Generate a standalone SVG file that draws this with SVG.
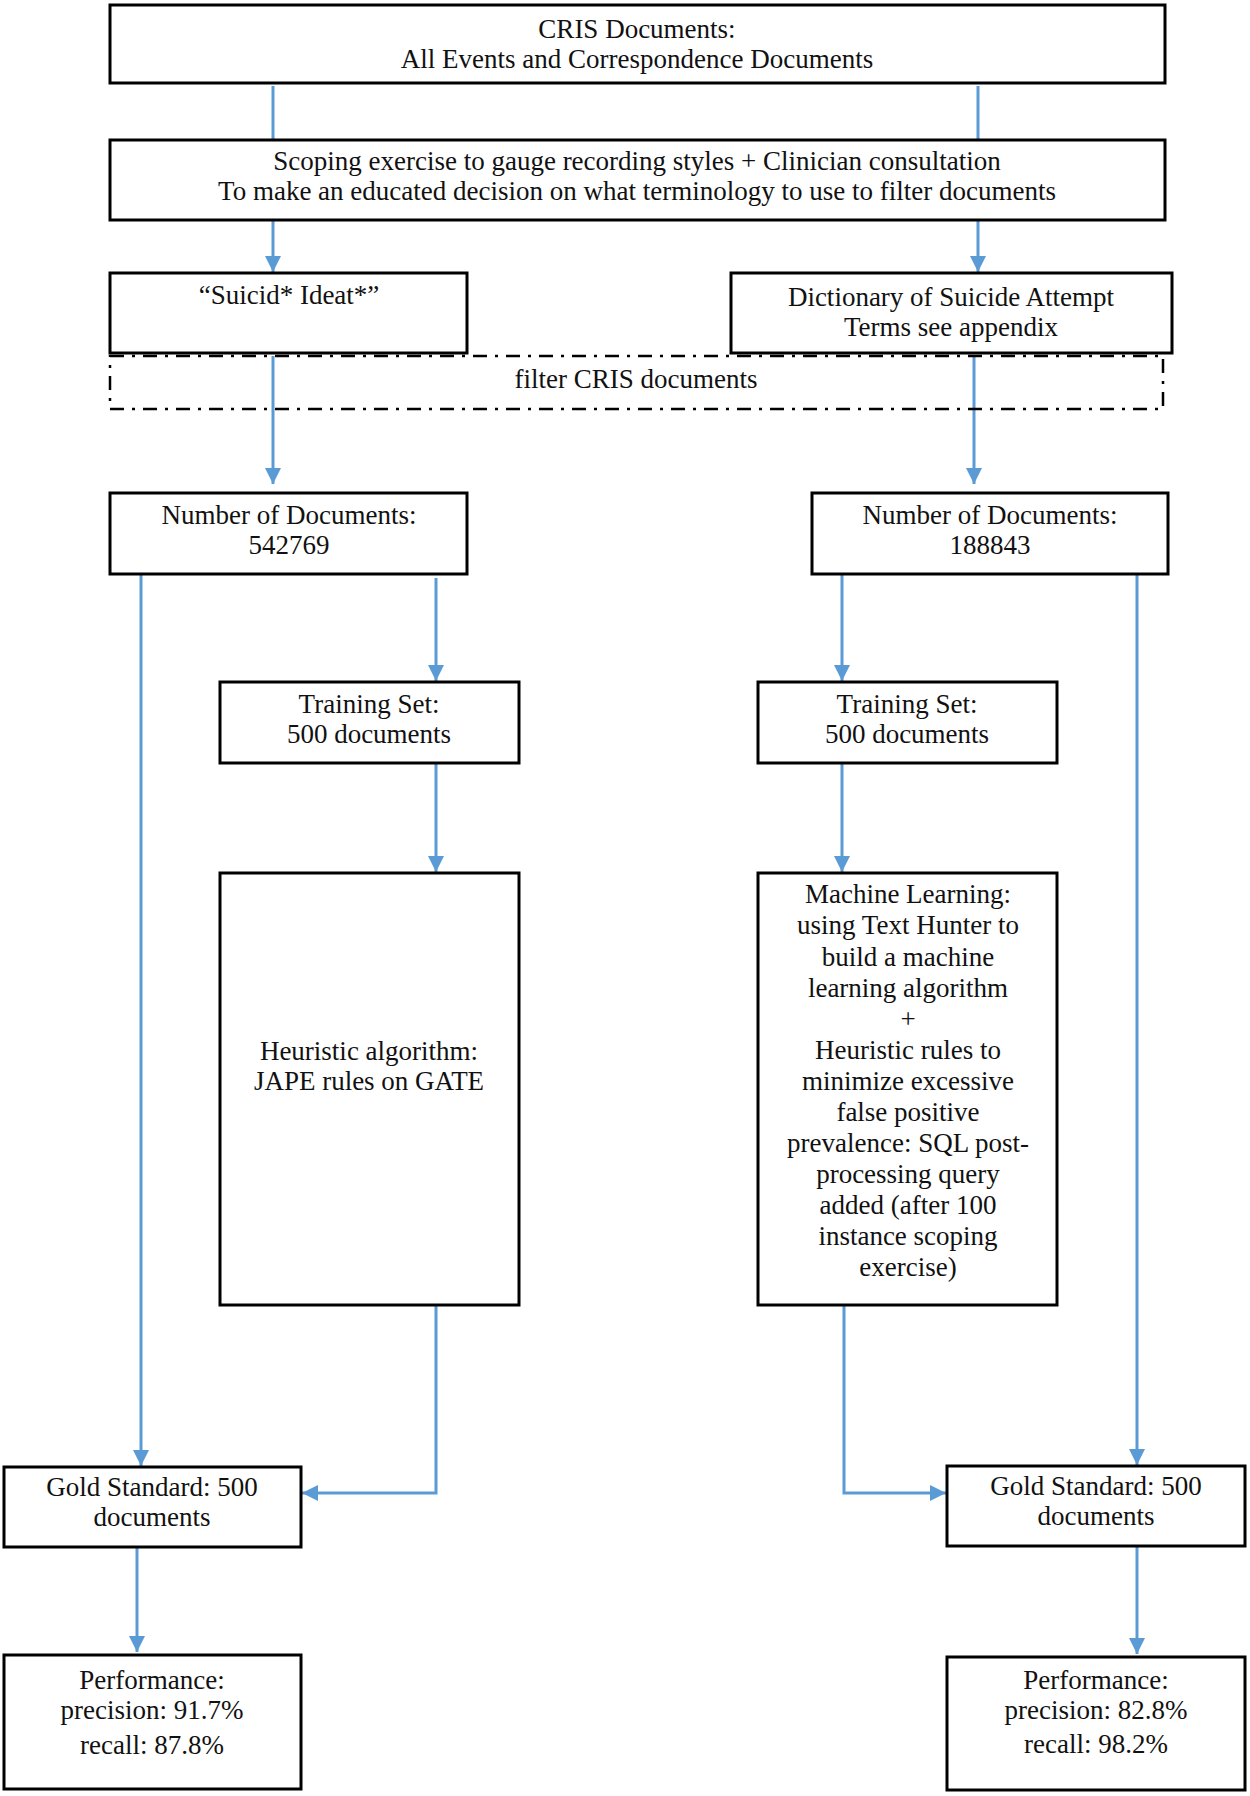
<svg xmlns="http://www.w3.org/2000/svg" width="1250" height="1796" viewBox="0 0 1250 1796">
<style>
.box{fill:#fff;stroke:#000;stroke-width:3}
.dash{fill:none;stroke:#000;stroke-width:2.5;stroke-dasharray:14 8 3 8}
.t{font-family:"Liberation Serif","Times New Roman",serif;font-size:27px;fill:#111;text-anchor:middle}
.c{fill:none;stroke:#5B9BD5;stroke-width:3}
.a{marker-end:url(#arr)}
</style>
<defs>
<marker id="arr" markerUnits="userSpaceOnUse" markerWidth="16" markerHeight="16" viewBox="0 0 16 16" refX="16" refY="8" orient="auto">
<path d="M0,0 L16,8 L0,16 z" fill="#5B9BD5"/>
</marker>
</defs>
<rect width="1250" height="1796" fill="#fff"/>

<g id="connectors">
<line class="c" x1="273" y1="86" x2="273" y2="140"/>
<line class="c" x1="978" y1="86" x2="978" y2="140"/>
<line class="c a" x1="273" y1="220" x2="273" y2="272"/>
<line class="c a" x1="978" y1="220" x2="978" y2="272"/>
<line class="c a" x1="273" y1="356" x2="273" y2="484"/>
<line class="c a" x1="974" y1="356" x2="974" y2="484"/>
<line class="c a" x1="141" y1="574" x2="141" y2="1466"/>
<line class="c a" x1="436" y1="578" x2="436" y2="681"/>
<line class="c a" x1="842" y1="574" x2="842" y2="681"/>
<line class="c a" x1="1137" y1="574" x2="1137" y2="1465"/>
<line class="c a" x1="436" y1="763" x2="436" y2="872"/>
<line class="c a" x1="842" y1="763" x2="842" y2="872"/>
<path class="c a" d="M436,1305 L436,1493 L302,1493"/>
<path class="c a" d="M844,1305 L844,1493 L946,1493"/>
<line class="c a" x1="137" y1="1548" x2="137" y2="1652"/>
<line class="c a" x1="1137" y1="1546" x2="1137" y2="1654"/>
</g>

<g id="n-cris">
<rect class="box" x="110" y="5" width="1055" height="78"/>
<text class="t" x="637" y="38">CRIS Documents:</text>
<text class="t" x="637" y="68">All Events and Correspondence Documents</text>
</g>

<g id="n-scoping">
<rect class="box" x="110" y="140" width="1055" height="80"/>
<text class="t" x="637" y="170">Scoping exercise to gauge recording styles + Clinician consultation</text>
<text class="t" x="637" y="200">To make an educated decision on what terminology to use to filter documents</text>
</g>

<g id="n-filter">
<rect class="dash" x="110" y="356" width="1053" height="53"/>
<text class="t" x="636" y="388">filter CRIS documents</text>
</g>

<g id="n-ideation">
<rect class="box" x="110" y="273" width="357" height="80"/>
<text class="t" x="289" y="304">“Suicid* Ideat*”</text>
</g>

<g id="n-dictionary">
<rect class="box" x="731" y="273" width="441" height="80"/>
<text class="t" x="951" y="306">Dictionary of Suicide Attempt</text>
<text class="t" x="951" y="336">Terms see appendix</text>
</g>

<g id="n-num-left">
<rect class="box" x="110" y="493" width="357" height="81"/>
<text class="t" x="289" y="524">Number of Documents:</text>
<text class="t" x="289" y="554">542769</text>
</g>

<g id="n-num-right">
<rect class="box" x="812" y="493" width="356" height="81"/>
<text class="t" x="990" y="524">Number of Documents:</text>
<text class="t" x="990" y="554">188843</text>
</g>

<g id="n-train-left">
<rect class="box" x="220" y="682" width="299" height="81"/>
<text class="t" x="369" y="713">Training Set:</text>
<text class="t" x="369" y="743">500 documents</text>
</g>

<g id="n-train-right">
<rect class="box" x="758" y="682" width="299" height="81"/>
<text class="t" x="907" y="713">Training Set:</text>
<text class="t" x="907" y="743">500 documents</text>
</g>

<g id="n-heuristic">
<rect class="box" x="220" y="873" width="299" height="432"/>
<text class="t" x="369" y="1060">Heuristic algorithm:</text>
<text class="t" x="369" y="1090">JAPE rules on GATE</text>
</g>

<g id="n-ml">
<rect class="box" x="758" y="873" width="299" height="432"/>
<text class="t" x="908" y="903">Machine Learning:</text>
<text class="t" x="908" y="934">using Text Hunter to</text>
<text class="t" x="908" y="966">build a machine</text>
<text class="t" x="908" y="997">learning algorithm</text>
<text class="t" x="908" y="1028">+</text>
<text class="t" x="908" y="1059">Heuristic rules to</text>
<text class="t" x="908" y="1090">minimize excessive</text>
<text class="t" x="908" y="1121">false positive</text>
<text class="t" x="908" y="1152">prevalence: SQL post-</text>
<text class="t" x="908" y="1183">processing query</text>
<text class="t" x="908" y="1214">added (after 100</text>
<text class="t" x="908" y="1245">instance scoping</text>
<text class="t" x="908" y="1276">exercise)</text>
</g>

<g id="n-gold-left">
<rect class="box" x="4" y="1467" width="297" height="80"/>
<text class="t" x="152" y="1496">Gold Standard: 500</text>
<text class="t" x="152" y="1526">documents</text>
</g>

<g id="n-gold-right">
<rect class="box" x="947" y="1466" width="298" height="80"/>
<text class="t" x="1096" y="1495">Gold Standard: 500</text>
<text class="t" x="1096" y="1525">documents</text>
</g>

<g id="n-perf-left">
<rect class="box" x="4" y="1655" width="297" height="134"/>
<text class="t" x="152" y="1689">Performance:</text>
<text class="t" x="152" y="1719">precision: 91.7%</text>
<text class="t" x="152" y="1754">recall: 87.8%</text>
</g>

<g id="n-perf-right">
<rect class="box" x="947" y="1657" width="298" height="133"/>
<text class="t" x="1096" y="1689">Performance:</text>
<text class="t" x="1096" y="1719">precision: 82.8%</text>
<text class="t" x="1096" y="1753">recall: 98.2%</text>
</g>
</svg>
